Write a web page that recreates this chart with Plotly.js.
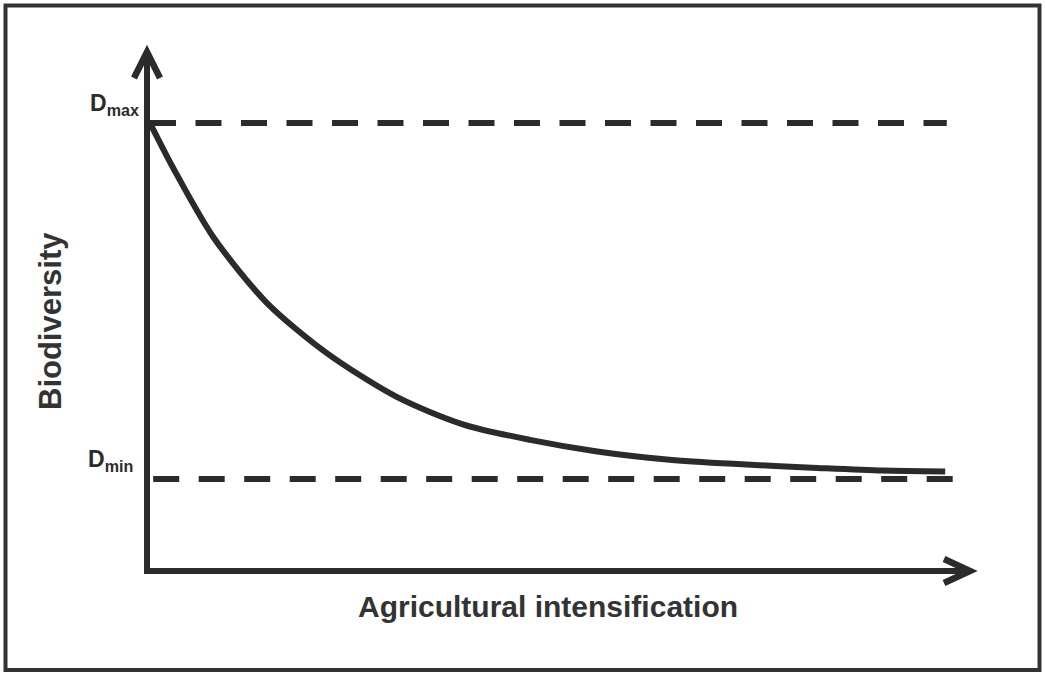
<!DOCTYPE html>
<html>
<head>
<meta charset="utf-8">
<script src="https://cdn.plot.ly/plotly-3.0.1.min.js"></script>
<style>
  html, body { margin: 0; padding: 0; background: #ffffff; }
  #chart { width: 1045px; height: 673px; }
</style>
</head>
<body>
<div id="chart"></div>
<script>
// Agricultural intensification (arbitrary units, 0 = origin)
const intensification = [0, 2.9, 7.9, 14.6, 22.1, 30.9, 39.1, 47.5, 55.9, 64.6, 72.9, 83.4, 91.6, 99.4];
// Biodiversity (arbitrary units, Dmax = 100)
const biodiversity = [100, 89.9, 74.4, 59.6, 48.3, 38.4, 32.3, 28.8, 26.2, 24.4, 23.4, 22.5, 21.9, 21.7];
// Reference levels
const levelNames = ["D<sub>max</sub>", "D<sub>min</sub>"];
const levelValues = [100, 20];
const levelStart = [0, 0.4];
const levelEnd = [99.6, 100.4];
// Axis titles
const xTitle = "Agricultural intensification";
const yTitle = "Biodiversity";

const ink = "#2b2b2b";
const xMax = 102.5;    // arrow tip of the x axis
const yMax = 115.96;   // arrow tip of the y axis

const traces = [];
levelValues.forEach((v, i) => {
  traces.push({
    x: [levelStart[i], levelEnd[i]],
    y: [v, v],
    mode: "lines",
    line: { color: ink, width: 6, dash: "26px,19.5px" },
    hoverinfo: "skip",
    showlegend: false,
    cliponaxis: false
  });
});
traces.push({
  x: intensification,
  y: biodiversity,
  mode: "lines",
  line: { color: ink, width: 6, shape: "spline", smoothing: 0.8 },
  showlegend: false,
  cliponaxis: false
});

const L = 150, R = 970, T = 52, B = 568, W = 1045, H = 673;
const pw = R - L, ph = B - T;
const px = v => (v - L) / pw;         // pixel x -> paper x
const py = v => (B - v) / ph;         // pixel y -> paper y

const titleFont = { family: "Liberation Sans, Arial, sans-serif", size: 30, color: "#333333" };

const annotations = levelNames.map((name, i) => ({
  text: "<b>" + name + "</b>",
  xref: "paper", yref: "y",
  x: px(i === 0 ? 141 : 135), y: levelValues[i],
  xanchor: "right", yanchor: "middle",
  yshift: 19,
  showarrow: false,
  font: { family: "Liberation Sans, Arial, sans-serif", size: 23, color: ink }
}));
annotations.push({
  text: "<b>" + xTitle + "</b>",
  xref: "paper", yref: "paper",
  x: px(548), y: py(606),
  xanchor: "center", yanchor: "middle",
  showarrow: false, font: titleFont
});
annotations.push({
  text: "<b>" + yTitle + "</b>",
  xref: "paper", yref: "paper",
  x: px(50), y: py(321), textangle: -90,
  xanchor: "center", yanchor: "middle",
  showarrow: false, font: Object.assign({}, titleFont, { size: 31 })
});

const shapes = [
  // outer frame
  { type: "rect", xref: "paper", yref: "paper",
    x0: px(5.5), x1: px(1039.5), y0: py(670), y1: py(5.5),
    line: { color: "#333333", width: 4 }, fillcolor: "rgba(0,0,0,0)", layer: "below" },
  // y axis arrow head
  { type: "path", xref: "paper", yref: "paper",
    path: `M ${px(134)} ${py(78)} L ${px(147)} ${py(52)} L ${px(160)} ${py(78)}`,
    line: { color: ink, width: 6.5 } },
  // x axis arrow head
  { type: "path", xref: "paper", yref: "paper",
    path: `M ${px(944)} ${py(559)} L ${px(970)} ${py(571)} L ${px(944)} ${py(583)}`,
    line: { color: ink, width: 6.5 } }
];

const layout = {
  width: W, height: H,
  margin: { l: L, r: W - R, t: T, b: H - B, pad: 0 },
  paper_bgcolor: "#ffffff",
  plot_bgcolor: "#ffffff",
  showlegend: false,
  xaxis: {
    range: [0, xMax],
    showgrid: false, zeroline: false, showticklabels: false, ticks: "",
    showline: true, linecolor: ink, linewidth: 6
  },
  yaxis: {
    range: [0, yMax],
    showgrid: false, zeroline: false, showticklabels: false, ticks: "",
    showline: true, linecolor: ink, linewidth: 6
  },
  annotations: annotations,
  shapes: shapes
};

Plotly.newPlot("chart", traces, layout, { displayModeBar: false, staticPlot: true });
</script>
</body>
</html>
